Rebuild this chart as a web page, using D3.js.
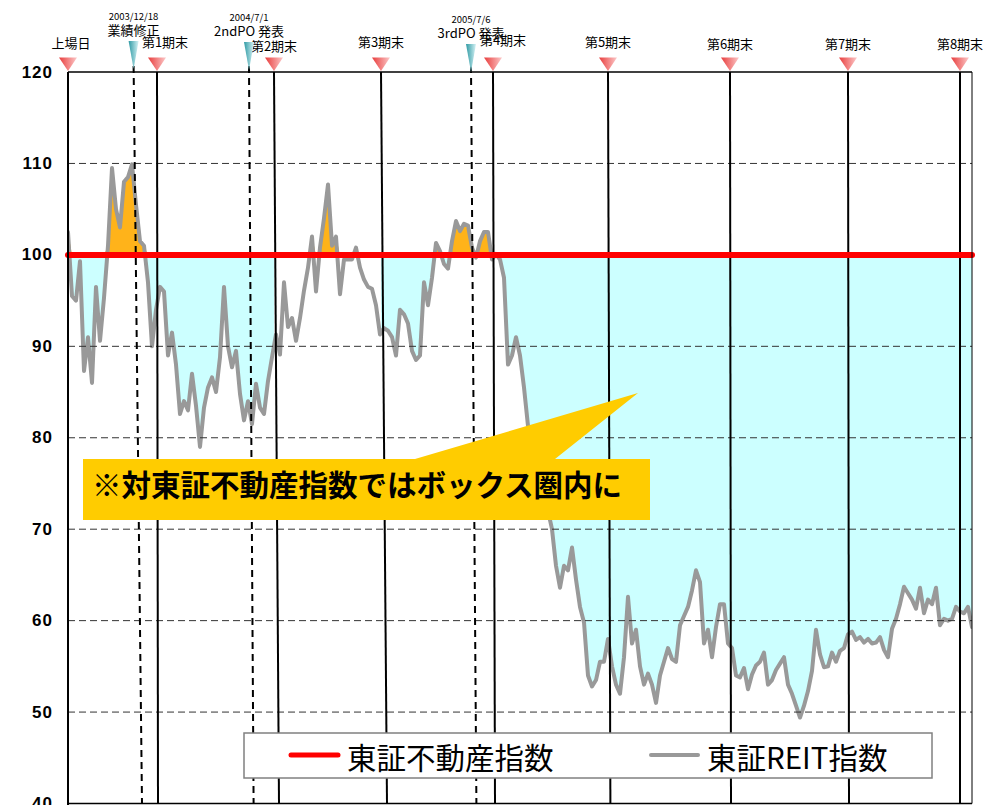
<!DOCTYPE html>
<html><head><meta charset="utf-8">
<script src="https://cdn.jsdelivr.net/npm/d3@7"></script>
<style>html,body{margin:0;padding:0;background:#fff;} svg{display:block}</style>
</head><body>
<svg id="chart" width="998" height="805"></svg>
<script>
// ---------------- data ----------------
const yTicks = [120, 110, 100, 90, 80, 70, 60, 50, 40];
const baseValue = 100; // 東証不動産指数 (rebased)
// 東証REIT指数 relative to 東証不動産指数, sampled at equal steps from listing day
const reit = [
 102.5, 95.5, 95, 99.3, 87.3, 91, 86, 96.5, 90.6, 95.3,
 101, 109.5, 105, 103, 108, 108.5, 109.9, 105.5, 101.5, 101,
 97, 90, 94, 96.5, 96, 89, 91.5, 88, 82.6, 84,
 83, 87, 83.5, 79, 83.3, 85.5, 86.6, 85, 88.8, 96.5,
 90, 87.7, 89.5, 84.8, 81.9, 84, 81.5, 85.9, 83.3, 82.6,
 86.2, 88.8, 91.3, 89.1, 97, 92.1, 93.1, 90.6, 93.1, 96.1,
 98.6, 102, 96, 100.8, 104, 107.7, 101, 102, 95.7, 99.5,
 99.5, 99.5, 100.8, 98.6, 97.3, 96.5, 96.3, 94.5, 91.3, 92,
 91.7, 91, 89, 94, 93.5, 92.5, 89.5, 88.5, 89, 97,
 94.5, 97.5, 101.3, 100.4, 99, 98.5, 101.5, 103.7, 102.6, 103.4,
 103.2, 100.8, 99.7, 101.5, 102.5, 102.5, 99.5, 100.1, 99.5, 97.5,
 88, 89, 91, 89, 85.5, 81.3, 79, 77, 75.5, 74,
 72, 70, 66, 63.6, 66, 65.5, 68, 64.5, 61.5, 59.8,
 54, 52.8, 53.5, 55.5, 55.5, 58, 55, 53, 52, 56,
 62.6, 57.5, 59, 55, 53, 54.2, 53, 51, 54, 55.5,
 57, 55.8, 55.5, 59.5, 60.5, 61.5, 63.3, 65.5, 64.2, 57.5,
 59, 56, 59.3, 61.8, 61.8, 57.5, 57, 54, 53.8, 54.8,
 52.5, 54.1, 55.1, 55.5, 56.5, 53, 53.5, 54.6, 55.3, 56,
 53, 52, 50.7, 49.4, 50.7, 52.3, 54.5, 59, 56.3, 54.9,
 55, 56.5, 55.5, 56.7, 57, 58.5, 58.8, 57.9, 58.2, 57.6,
 58, 57.5, 57.6, 58.2, 56.8, 56, 59.1, 60.2, 61.8, 63.7,
 63, 62.3, 61.3, 63.6, 60.8, 62.3, 61.8, 63.6, 59.5, 60.2,
 60, 60.2, 61.5, 61, 60.8, 61.5, 59.3
];
// period-end events (sample index at top / bottom of the drawn marker line)
const periodLabels = ["上場日", "第1期末", "第2期末", "第3期末", "第4期末", "第5期末", "第6期末", "第7期末", "第8期末"];
const periodIdx = [0, 22.25, 51.5, 78.25, 106.25, 135, 165.5, 195, 223];
const periodIdxEnd = [0, 22.5, 52.75, 79.75, 106.75, 135.6, 165.75, 195.25, 223];
// corporate events
const eventDates = ["2003/12/18", "2004/7/1", "2005/7/6"];
const eventLabels = ["業績修正", "2ndPO 発表", "3rdPO 発表"];
const eventIdx = [16.4, 45.25, 100.75];
const eventIdxEnd = [18.5, 46.4, 102.1];
const legendLabels = ["東証不動産指数", "東証REIT指数"];
const calloutText = "※対東証不動産指数ではボックス圏内に";

// ---------------- layout / style ----------------
const W = 998, H = 805;
const L = 68, R = 972, T = 72, B = 803.5;
const labelNudge = { "上場日": [3, 1], "第1期末": [8, 0], "第2期末": [0, 4], "第4期末": [10, -2],
  "第6期末": [0, 2], "第7期末": [0, 2], "第8期末": [0, 2] };
const eventNudge = [[0, 0], [0, 1], [0, 3]];
const font = "'Noto Sans CJK JP','Noto Sans',sans-serif";

const svg = d3.select("#chart");
const defs = svg.append("defs");

const x = d3.scaleLinear().domain([0, reit.length - 1]).range([L, R]);
const y = d3.scaleLinear().domain([40, 120]).range([B, T]);

// gradients
const gRed = defs.append("linearGradient").attr("id", "gRed").attr("x1", 0).attr("x2", 1).attr("y1", 0).attr("y2", 0);
gRed.append("stop").attr("offset", "0%").attr("stop-color", "#e83c3c");
gRed.append("stop").attr("offset", "100%").attr("stop-color", "#fcc8c8");
const gCyan = defs.append("linearGradient").attr("id", "gCyan").attr("x1", 0).attr("x2", 1).attr("y1", 0).attr("y2", 0);
gCyan.append("stop").attr("offset", "0%").attr("stop-color", "#2f9aa4");
gCyan.append("stop").attr("offset", "100%").attr("stop-color", "#d6f2f5");

defs.append("clipPath").attr("id", "plotClip").append("rect")
  .attr("x", L).attr("y", T).attr("width", R - L).attr("height", B - T);
const noFillClip = defs.append("clipPath").attr("id", "cyanClip");
noFillClip.append("rect").attr("x", L).attr("y", T).attr("width", x(periodIdx[2]) - L).attr("height", B - T);
noFillClip.append("rect").attr("x", x(periodIdx[3])).attr("y", T).attr("width", R - x(periodIdx[3])).attr("height", B - T);

const idx = d3.range(reit.length);

// fills
const cyanArea = d3.area().x(i => x(i)).y0(y(baseValue)).y1(i => y(Math.min(reit[i], baseValue)));
const orangeArea = d3.area().x(i => x(i)).y0(y(baseValue)).y1(i => y(Math.max(reit[i], baseValue)));
const plot = svg.append("g").attr("clip-path", "url(#plotClip)");
plot.append("g").attr("clip-path", "url(#cyanClip)").append("path")
  .attr("d", cyanArea(idx)).attr("fill", "#ccffff");
plot.append("path").attr("d", orangeArea(idx)).attr("fill", "#ffb31a");

// grid lines
svg.append("g").selectAll("line").data(yTicks.filter(v => v !== 120 && v !== 40 && v !== baseValue)).join("line")
  .attr("x1", L).attr("x2", R).attr("y1", d => y(d)).attr("y2", d => y(d))
  .attr("stroke", "#333").attr("stroke-width", 1).attr("stroke-dasharray", "7,4");

// period and event lines
svg.append("g").selectAll("line").data(d3.range(1, periodIdx.length)).join("line")
  .attr("x1", i => x(periodIdx[i])).attr("x2", i => x(periodIdxEnd[i]))
  .attr("y1", T).attr("y2", B).attr("stroke", "#000").attr("stroke-width", 2);
svg.append("g").selectAll("line").data(d3.range(eventIdx.length)).join("line")
  .attr("x1", i => x(eventIdx[i])).attr("x2", i => x(eventIdxEnd[i]))
  .attr("y1", T - 6).attr("y2", B).attr("stroke", "#000").attr("stroke-width", 2)
  .attr("stroke-dasharray", "7,5");

// 東証不動産指数 line
svg.append("line").attr("x1", L).attr("x2", R).attr("y1", y(baseValue)).attr("y2", y(baseValue))
  .attr("stroke", "#ff0000").attr("stroke-width", 6).attr("stroke-linecap", "round");

// REIT line
const line = d3.line().x(i => x(i)).y(i => y(reit[i]));
plot.append("path").attr("d", line(idx)).attr("fill", "none").attr("stroke", "#999999")
  .attr("stroke-width", 4).attr("stroke-linejoin", "round").attr("stroke-linecap", "round");

// frame
svg.append("line").attr("x1", L).attr("x2", R).attr("y1", T).attr("y2", T).attr("stroke", "#000").attr("stroke-width", 1.5);
svg.append("line").attr("x1", L).attr("x2", R).attr("y1", B).attr("y2", B).attr("stroke", "#000").attr("stroke-width", 1.5);
svg.append("line").attr("x1", L).attr("x2", L).attr("y1", T).attr("y2", H).attr("stroke", "#000").attr("stroke-width", 2);
svg.append("line").attr("x1", R).attr("x2", R).attr("y1", T).attr("y2", B).attr("stroke", "#000").attr("stroke-width", 1);

// y axis labels
svg.append("g").selectAll("text").data(yTicks).join("text")
  .attr("x", 53).attr("y", d => y(d)).attr("text-anchor", "end").attr("dominant-baseline", "central")
  .attr("font-family", "'Liberation Sans',Arial,sans-serif").attr("font-weight", "bold")
  .attr("font-size", 17).attr("letter-spacing", 1).attr("fill", "#000").text(d => d);

// period triangles + labels
const pg = svg.append("g");
periodIdx.forEach((p, i) => {
  const cx = x(p);
  pg.append("path").attr("d", `M${cx - 9},57.5 L${cx + 9},57.5 L${cx},71 Z`).attr("fill", "url(#gRed)");
  const n = labelNudge[periodLabels[i]] || [0, 0];
  pg.append("text").attr("x", cx + n[0]).attr("y", 47 + n[1]).attr("text-anchor", "middle")
    .attr("font-family", font).attr("font-size", 13).attr("fill", "#000").text(periodLabels[i]);
});

// event triangles + labels
const eg = svg.append("g");
eventIdx.forEach((p, i) => {
  const cx = x(p);
  const n = eventNudge[i];
  eg.append("path").attr("d", `M${cx - 5},${41 + n[1]} L${cx + 5},${41 + n[1]} L${cx},${69 + n[1]} Z`)
    .attr("fill", "url(#gCyan)");
  eg.append("text").attr("x", cx).attr("y", 20 + n[1]).attr("text-anchor", "middle")
    .attr("font-family", font).attr("font-size", 9.5).attr("fill", "#000").text(eventDates[i]);
  eg.append("text").attr("x", cx).attr("y", 34.5 + n[1]).attr("text-anchor", "middle")
    .attr("font-family", font).attr("font-size", 13).attr("fill", "#000").text(eventLabels[i]);
});

// callout
svg.append("path")
  .attr("d", "M83,459 L415,459 L638,393 L555,459 L650,459 L650,520 L83,520 Z")
  .attr("fill", "#ffcc00");
svg.append("text").attr("x", 92).attr("y", 483).attr("dominant-baseline", "central")
  .attr("font-family", font).attr("font-weight", "bold").attr("font-size", 29.5).attr("fill", "#000")
  .text(calloutText);

// legend
const lg = svg.append("g");
lg.append("rect").attr("x", 244).attr("y", 733).attr("width", 688).attr("height", 45)
  .attr("fill", "#fff").attr("stroke", "#808080").attr("stroke-width", 1.5);
const legendStyle = [{ c: "#ff0000", w: 5, x0: 291 }, { c: "#999999", w: 4, x0: 651 }];
legendLabels.forEach((t, i) => {
  const s = legendStyle[i];
  lg.append("line").attr("x1", s.x0).attr("x2", s.x0 + 47).attr("y1", 755).attr("y2", 755)
    .attr("stroke", s.c).attr("stroke-width", s.w).attr("stroke-linecap", "round");
  lg.append("text").attr("x", s.x0 + 56).attr("y", 756).attr("dominant-baseline", "central")
    .attr("font-family", font).attr("font-size", 29.5).attr("fill", "#000").text(t);
});
</script>
</body></html>
